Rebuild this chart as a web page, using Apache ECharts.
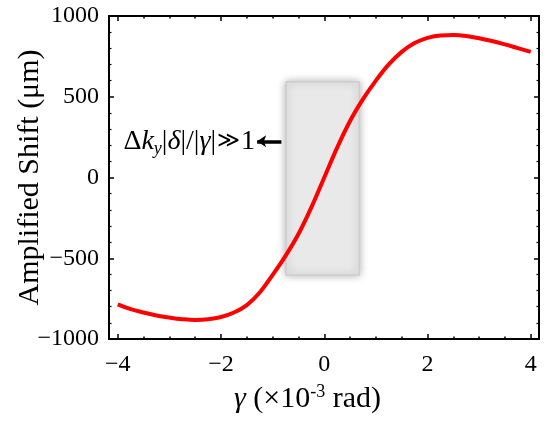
<!DOCTYPE html>
<html>
<head>
<meta charset="utf-8">
<script src="https://cdn.jsdelivr.net/npm/echarts@6/dist/echarts.min.js"></script>
<style>
  html, body { margin: 0; padding: 0; background: #fff; }
  #chart { width: 550px; height: 422px; }
</style>
</head>
<body>
<div id="chart"></div>
<script>
// gamma (x10^-3 rad)
var gammaVals = [-4, -3.75, -3.5, -3.25, -3, -2.75, -2.5, -2.25, -2, -1.75, -1.5, -1.25, -1, -0.75, -0.5, -0.25,
  0, 0.25, 0.5, 0.75, 1, 1.25, 1.5, 1.75, 2, 2.25, 2.5, 2.75, 3, 3.25, 3.5, 3.75, 4]
// amplified shift (um)
var shiftVals = [-785, -815, -836, -854, -867, -877, -882, -878, -864, -836, -790, -712, -603, -485, -350, -185,
  0, 185, 350, 485, 600, 700, 778, 833, 865, 880, 882, 876, 862, 845, 824, 801, 778]

var xMajor = [-4, -2, 0, 2, 4]
var xMinor = [-4, -3.5, -3, -2.5, -2, -1.5, -1, -0.5, 0, 0.5, 1, 1.5, 2, 2.5, 3, 3.5, 4]

// shaded region and annotation arrow (data coords)
var boxCorners = [[-0.74, 592], [0.68, -603]]
var arrowFrom = [-0.83, 224]
var arrowTo = [-1.3, 224]
var notePos = [-1.34, 224]

var font = 'Liberation Serif'
var myChart = echarts.init(document.getElementById('chart'))

function minus(v) {
  return String(v).replace('-', '\u2212')
}

function xAxisCfg(pos, vals, len, line, labels) {
  return {
    type: 'value', position: pos, min: -4.17, max: 4.16,
    axisLine: { show: line, onZero: false, lineStyle: { color: '#000', width: 2 } },
    axisTick: { show: true, inside: true, length: len, customValues: vals, lineStyle: { color: '#000', width: 1.5 } },
    axisLabel: labels ? {
      customValues: xMajor, margin: 14, color: '#000', fontFamily: font, fontSize: 24,
      formatter: function (v) { return minus(v) }
    } : { show: false },
    splitLine: { show: false }
  }
}

function yAxisCfg(pos, labels) {
  return {
    type: 'value', position: pos, min: -1000, max: 1000, interval: 500,
    axisLine: { show: true, onZero: false, lineStyle: { color: '#000', width: 2 } },
    axisTick: { inside: true, length: 5, lineStyle: { color: '#000', width: 1.5 } },
    minorTick: { show: true, splitNumber: 5, length: 2.5, lineStyle: { color: '#000', width: 1.2 } },
    axisLabel: labels ? {
      margin: 10, color: '#000', fontFamily: font, fontSize: 24,
      formatter: function (v) { return minus(v) }
    } : { show: false },
    splitLine: { show: false }
  }
}

var xBottom = xAxisCfg('bottom', xMajor, 5, true, true)
xBottom.name = '{i|\u03b3} (\u00d710{sup|-3} rad)'
xBottom.nameLocation = 'middle'
xBottom.nameGap = 44
xBottom.nameMoveOverlap = false
xBottom.nameTextStyle = {
  color: '#000', fontFamily: font, fontSize: 30, padding: [0, 33, 0, 0],
  rich: {
    i: { fontFamily: font, fontSize: 30, fontStyle: 'italic', color: '#000' },
    sup: { fontFamily: font, fontSize: 18, color: '#000', padding: [0, 0, 14, 0] }
  }
}

var yLeft = yAxisCfg('left', true)
yLeft.name = 'Amplified Shift (\u03bcm)'
yLeft.nameLocation = 'middle'
yLeft.nameGap = 64
yLeft.nameMoveOverlap = false
yLeft.nameTextStyle = { color: '#000', fontFamily: font, fontSize: 30 }

var curve = []
for (var i = 0; i < gammaVals.length; i++) {
  curve.push([gammaVals[i], shiftVals[i]])
}

var option = {
  animation: false,
  grid: { left: 109, right: 11, top: 16, bottom: 83, outerBoundsMode: 'none' },
  xAxis: [
    xBottom,
    xAxisCfg('bottom', xMinor, 2.5, false, false),
    xAxisCfg('top', xMajor, 5, true, false),
    xAxisCfg('top', xMinor, 2.5, false, false)
  ],
  yAxis: [yLeft, yAxisCfg('right', false)],
  series: [
    {
      // gray box behind the curve
      type: 'line', data: [], silent: true, z: 1,
      markArea: {
        silent: true,
        itemStyle: {
          color: '#e9e9e9', borderColor: '#cdcdcd', borderWidth: 1.5,
          shadowBlur: 8, shadowColor: 'rgba(0,0,0,0.3)'
        },
        data: [[{ coord: boxCorners[0] }, { coord: boxCorners[1] }]]
      }
    },
    {
      type: 'line', data: curve, smooth: 0.4, showSymbol: false, z: 5,
      lineStyle: { color: '#ff0000', width: 4 },
      markLine: {
        silent: true, symbol: ['none', 'arrow'], symbolSize: [9, 9],
        label: { show: false },
        lineStyle: { color: '#000', width: 3.5, type: 'solid' },
        data: [[{ coord: arrowFrom }, { coord: arrowTo }]]
      }
    }
  ]
}

myChart.setOption(option)

// annotation text, placed from data coords
var p = myChart.convertToPixel({ gridIndex: 0 }, notePos)
myChart.setOption({
  graphic: [{
    type: 'text', x: p[0], y: p[1], z: 10,
    style: {
      text: '{n|\u0394}{i|k}{s|y}{n||}{i|\u03b4}{n||/|}{i|\u03b3}{n||}{g|\u226b}{n|1}',
      align: 'right', verticalAlign: 'middle',
      rich: {
        n: { fontFamily: font, fontSize: 28, fill: '#000' },
        i: { fontFamily: font, fontSize: 28, fontStyle: 'italic', fill: '#000' },
        g: { fontFamily: font, fontSize: 22, fill: '#000', padding: [0, 1, 0, 1] },
        s: { fontFamily: font, fontSize: 18, fontStyle: 'italic', fill: '#000', padding: [15, 0, 0, 0] }
      }
    }
  }]
})
</script>
</body>
</html>
